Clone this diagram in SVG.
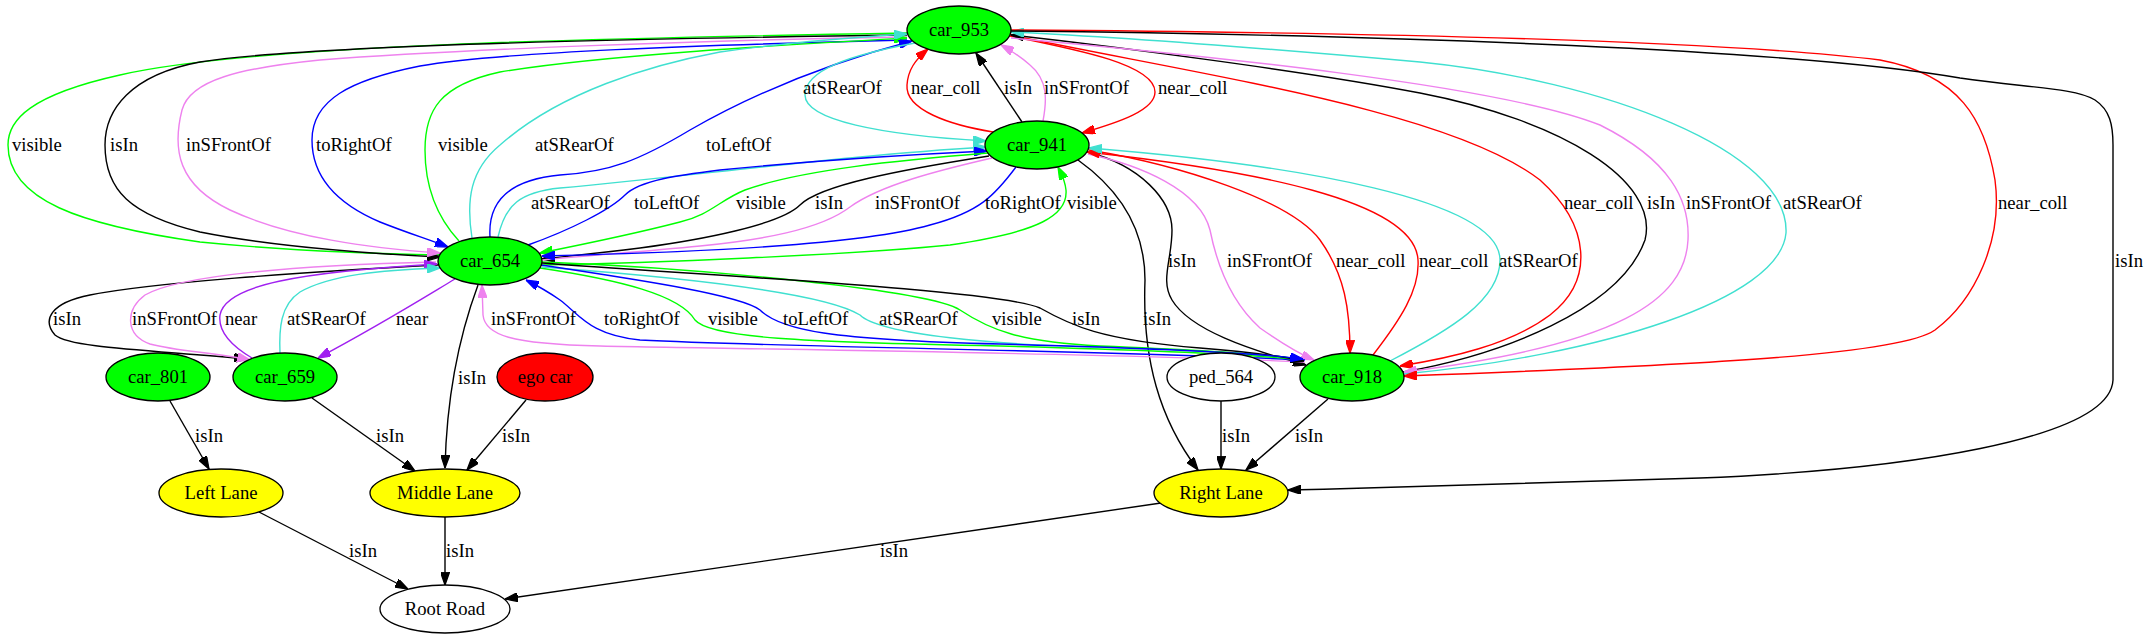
<svg xmlns="http://www.w3.org/2000/svg" width="2147" height="639" viewBox="0 0 2147 639">
<style>
text{font-family:"Liberation Serif","Times New Roman",serif;font-size:18.67px;fill:#000}
.n text{text-anchor:middle}
.n ellipse{stroke:#000;stroke-width:1.33}
.g{fill:#00ff00}.y{fill:#ffff00}.r{fill:#ff0000}.w{fill:#fff}
.e path{fill:none;stroke-width:1.4}
.k{stroke:#000}.rd{stroke:#ff0000}.bl{stroke:#0000ff}.gr{stroke:#00ff00}.pk{stroke:#ee82ee}.cy{stroke:#40e0d0}.pu{stroke:#a020f0}
</style>
<defs>
<marker id="mk" viewBox="0 0 10 7" refX="10" refY="3.5" markerWidth="13" markerHeight="9" markerUnits="userSpaceOnUse" orient="auto"><path d="M0,0L10,3.5L0,7z" fill="#000" stroke="#000"/></marker>
<marker id="mr" viewBox="0 0 10 7" refX="10" refY="3.5" markerWidth="13" markerHeight="9" markerUnits="userSpaceOnUse" orient="auto"><path d="M0,0L10,3.5L0,7z" fill="#ff0000" stroke="#ff0000"/></marker>
<marker id="mb" viewBox="0 0 10 7" refX="10" refY="3.5" markerWidth="13" markerHeight="9" markerUnits="userSpaceOnUse" orient="auto"><path d="M0,0L10,3.5L0,7z" fill="#0000ff" stroke="#0000ff"/></marker>
<marker id="mg" viewBox="0 0 10 7" refX="10" refY="3.5" markerWidth="13" markerHeight="9" markerUnits="userSpaceOnUse" orient="auto"><path d="M0,0L10,3.5L0,7z" fill="#00ff00" stroke="#00ff00"/></marker>
<marker id="mp" viewBox="0 0 10 7" refX="10" refY="3.5" markerWidth="13" markerHeight="9" markerUnits="userSpaceOnUse" orient="auto"><path d="M0,0L10,3.5L0,7z" fill="#ee82ee" stroke="#ee82ee"/></marker>
<marker id="mc" viewBox="0 0 10 7" refX="10" refY="3.5" markerWidth="13" markerHeight="9" markerUnits="userSpaceOnUse" orient="auto"><path d="M0,0L10,3.5L0,7z" fill="#40e0d0" stroke="#40e0d0"/></marker>
<marker id="mu" viewBox="0 0 10 7" refX="10" refY="3.5" markerWidth="13" markerHeight="9" markerUnits="userSpaceOnUse" orient="auto"><path d="M0,0L10,3.5L0,7z" fill="#a020f0" stroke="#a020f0"/></marker>
</defs>
<rect width="2147" height="639" fill="#fff"/>
<g id="connectors" class="e">
<!-- group A: car_953 / car_654 -->
<path class="gr" marker-end="url(#mg)" d="M907,33 C600,38 250,45 120,75 C30,95 8,120 8,145 C8,200 80,225 200,242 C300,252 380,254 440,255"/>
<path class="k" marker-end="url(#mk)" d="M907,35 C600,39 300,46 200,62 C130,75 105,110 105,145 C105,190 130,215 200,232 C280,248 380,254 440,257"/>
<path class="pk" marker-end="url(#mp)" d="M907,37 C700,40 450,50 320,60 C240,68 190,80 182,110 C172,150 178,185 230,210 C290,238 370,248 440,253"/>
<path class="bl" marker-end="url(#mb)" d="M907,40 C700,45 500,52 420,66 C350,80 312,100 312,140 C312,180 340,205 380,222 C405,232 430,240 448,247"/>
<path class="gr" marker-end="url(#mg)" d="M459,241 C435,215 425,185 425,150 C425,110 440,85 500,72 C600,55 800,44 907,38"/>
<path class="cy" marker-end="url(#mc)" d="M472,238 C466,200 470,170 500,145 C560,92 650,65 720,52 C790,42 860,37 907,34"/>
<path class="bl" marker-end="url(#mb)" d="M490,237 C488,205 505,180 560,175 C610,172 640,160 690,130 C760,90 840,60 912,41"/>
<!-- group B -->
<path class="cy" marker-end="url(#mc)" d="M915,43 C850,55 805,70 805,95 C805,120 880,135 986,141"/>
<path class="rd" marker-end="url(#mr)" d="M993,132 C950,125 905,110 907,85 C908,70 915,60 928,49"/>
<path class="k" marker-end="url(#mk)" d="M1022,122 L976,53"/>
<path class="pk" marker-end="url(#mp)" d="M1043,121 C1047,100 1048,80 1030,65 C1022,58 1012,51 1001,45"/>
<path class="rd" marker-end="url(#mr)" d="M1010,36 C1080,50 1155,65 1155,92 C1155,110 1120,122 1082,133"/>
<!-- group C -->
<path class="cy" marker-end="url(#mc)" d="M498,237 C505,205 520,192 560,188 C700,175 850,155 986,147"/>
<path class="bl" marker-end="url(#mb)" d="M528,245 C570,230 610,210 625,195 C640,180 680,175 720,170 C800,162 900,155 987,151"/>
<path class="gr" marker-end="url(#mg)" d="M988,153 C900,160 800,170 745,190 C720,200 710,215 680,222 C630,235 580,245 540,253"/>
<path class="k" marker-end="url(#mk)" d="M989,156 C900,170 820,185 800,205 C780,225 700,240 640,248 C600,253 570,256 542,259"/>
<path class="pk" d="M992,158 C940,170 880,185 850,207 C820,230 760,240 700,246 C640,252 580,256 542,260"/>
<path class="bl" marker-end="url(#mb)" d="M1016,167 C995,195 980,212 930,225 C860,245 700,252 542,256"/>
<path class="gr" marker-end="url(#mg)" d="M540,265 C650,263 850,255 950,245 C1040,232 1068,215 1066,190 C1065,180 1062,175 1058,167"/>
<!-- group D -->
<path class="k" marker-end="url(#mk)" d="M1087,152 C1140,165 1172,200 1172,230 C1172,260 1160,280 1172,300 C1190,330 1250,350 1306,365"/>
<path class="pk" marker-end="url(#mp)" d="M1088,154 C1140,165 1200,190 1210,230 C1220,280 1240,310 1260,328 C1280,342 1295,352 1314,360"/>
<path class="rd" marker-end="url(#mr)" d="M1089,150 C1180,165 1290,200 1320,240 C1345,275 1350,310 1350,353"/>
<path class="rd" marker-end="url(#mr)" d="M1373,355 C1400,320 1420,290 1418,260 C1415,200 1250,170 1087,152"/>
<path class="cy" marker-end="url(#mc)" d="M1390,361 C1450,330 1500,300 1500,260 C1500,200 1300,165 1089,148"/>
<path class="k" marker-end="url(#mk)" d="M1078,160 C1120,190 1145,230 1145,280 C1142,360 1160,420 1198,470"/>
<!-- group E -->
<path class="rd" marker-end="url(#mr)" d="M1010,35 C1200,75 1450,110 1540,180 C1590,225 1595,280 1550,315 C1510,345 1450,358 1400,366"/>
<path class="k" marker-end="url(#mk)" d="M1403,372 C1500,355 1620,310 1645,240 C1660,180 1560,120 1420,93 C1300,70 1100,45 1011,35"/>
<path class="pk" marker-end="url(#mp)" d="M1011,38 C1200,55 1500,85 1600,125 C1670,160 1690,200 1688,240 C1685,300 1620,345 1404,372"/>
<path class="cy" marker-end="url(#mc)" d="M1404,374 C1600,355 1780,300 1786,233 C1790,150 1600,80 1420,62 C1250,47 1100,36 1011,32"/>
<path class="rd" marker-end="url(#mr)" d="M1011,30 C1300,32 1700,38 1880,60 C1960,75 1985,120 1995,180 C2003,240 1975,300 1935,330 C1900,355 1700,365 1404,376"/>
<path class="k" marker-end="url(#mk)" d="M1011,31 C1400,35 1800,50 1960,78 C2030,88 2075,88 2095,100 C2110,110 2113,125 2113,145 L2113,380 C2110,440 1900,470 1700,478 C1500,485 1400,488 1288,490"/>
<!-- group F -->
<path class="pk" marker-end="url(#mp)" d="M1305,362 C1100,353 800,350 600,346 C510,344 485,335 483,315 L482,285"/>
<path class="bl" marker-end="url(#mb)" d="M1305,360 C1100,350 800,348 640,340 C590,335 580,315 560,300 C550,293 540,287 526,280"/>
<path class="gr" marker-end="url(#mg)" d="M540,268 C620,280 680,295 695,320 C710,338 800,342 1000,346 C1150,350 1250,354 1303,360"/>
<path class="cy" marker-end="url(#mc)" d="M542,267 C650,275 820,290 860,315 C880,335 1000,345 1100,347 C1200,350 1270,354 1303,360"/>
<path class="gr" marker-end="url(#mg)" d="M542,262 C700,268 930,290 960,310 C990,330 1020,342 1100,346 C1200,350 1270,354 1303,360"/>
<path class="k" marker-end="url(#mk)" d="M542,263 C700,275 1000,290 1040,308 C1070,325 1100,340 1200,348 C1250,352 1280,356 1304,361"/>
<path class="bl" marker-end="url(#mb)" d="M541,265 C640,280 740,295 760,310 C780,330 830,340 1000,344 C1150,348 1250,352 1303,359"/>
<!-- group G -->
<path class="k" marker-end="url(#mk)" d="M438,265 C300,272 150,283 90,295 C50,303 42,320 55,335 C70,348 150,350 247,359"/>
<path class="pk" marker-end="url(#mp)" d="M436,262 C300,265 180,275 145,295 C125,310 125,335 150,344 C180,352 215,352 250,360"/>
<path class="pu" marker-end="url(#mu)" d="M252,358 C230,345 218,330 220,315 C225,285 300,272 437,264"/>
<path class="cy" marker-end="url(#mc)" d="M280,353 C279,330 280,305 300,292 C330,275 380,270 440,268"/>
<path class="pu" marker-end="url(#mu)" d="M455,279 C420,300 380,325 318,358"/>
<!-- group H -->
<path class="k" marker-end="url(#mk)" d="M478,285 C465,320 447,380 445,468"/>
<path class="k" marker-end="url(#mk)" d="M170,401 L209,469"/>
<path class="k" marker-end="url(#mk)" d="M312,398 L415,471"/>
<path class="k" marker-end="url(#mk)" d="M526,400 L467,470"/>
<path class="k" marker-end="url(#mk)" d="M259,512 L408,589"/>
<path class="k" marker-end="url(#mk)" d="M445,517 L445,585"/>
<path class="k" marker-end="url(#mk)" d="M1161,503 L505,599"/>
<path class="k" marker-end="url(#mk)" d="M1221,401 L1221,469"/>
<path class="k" marker-end="url(#mk)" d="M1328,399 L1246,470"/>
</g>
<g id="edge-labels">
<text x="12" y="151">visible</text>
<text x="110" y="151">isIn</text>
<text x="186" y="151">inSFrontOf</text>
<text x="316" y="151">toRightOf</text>
<text x="438" y="151">visible</text>
<text x="535" y="151">atSRearOf</text>
<text x="706" y="151">toLeftOf</text>
<text x="803" y="94">atSRearOf</text>
<text x="911" y="94">near_coll</text>
<text x="1004" y="94">isIn</text>
<text x="1044" y="94">inSFrontOf</text>
<text x="1158" y="94">near_coll</text>
<text x="531" y="209">atSRearOf</text>
<text x="634" y="209">toLeftOf</text>
<text x="736" y="209">visible</text>
<text x="815" y="209">isIn</text>
<text x="875" y="209">inSFrontOf</text>
<text x="985" y="209">toRightOf</text>
<text x="1067" y="209">visible</text>
<text x="1564" y="209">near_coll</text>
<text x="1647" y="209">isIn</text>
<text x="1686" y="209">inSFrontOf</text>
<text x="1783" y="209">atSRearOf</text>
<text x="1998" y="209">near_coll</text>
<text x="1168" y="267">isIn</text>
<text x="1227" y="267">inSFrontOf</text>
<text x="1336" y="267">near_coll</text>
<text x="1419" y="267">near_coll</text>
<text x="1499" y="267">atSRearOf</text>
<text x="2115" y="267">isIn</text>
<text x="53" y="325">isIn</text>
<text x="132" y="325">inSFrontOf</text>
<text x="225" y="325">near</text>
<text x="287" y="325">atSRearOf</text>
<text x="396" y="325">near</text>
<text x="491" y="325">inSFrontOf</text>
<text x="604" y="325">toRightOf</text>
<text x="708" y="325">visible</text>
<text x="783" y="325">toLeftOf</text>
<text x="879" y="325">atSRearOf</text>
<text x="992" y="325">visible</text>
<text x="1072" y="325">isIn</text>
<text x="1143" y="325">isIn</text>
<text x="458" y="384">isIn</text>
<text x="195" y="442">isIn</text>
<text x="376" y="442">isIn</text>
<text x="502" y="442">isIn</text>
<text x="1222" y="442">isIn</text>
<text x="1295" y="442">isIn</text>
<text x="349" y="557">isIn</text>
<text x="446" y="557">isIn</text>
<text x="880" y="557">isIn</text>
</g>
<g id="car_953" class="n"><ellipse class="g" cx="959" cy="30" rx="52" ry="24"/><text x="959" y="36">car_953</text></g>
<g id="car_941" class="n"><ellipse class="g" cx="1037" cy="145" rx="52" ry="24"/><text x="1037" y="151">car_941</text></g>
<g id="car_654" class="n"><ellipse class="g" cx="490" cy="261" rx="52" ry="24"/><text x="490" y="267">car_654</text></g>
<g id="car_918" class="n"><ellipse class="g" cx="1352" cy="377" rx="52" ry="24"/><text x="1352" y="383">car_918</text></g>
<g id="ped_564" class="n"><ellipse class="w" cx="1221" cy="377" rx="54" ry="24"/><text x="1221" y="383">ped_564</text></g>
<g id="car_801" class="n"><ellipse class="g" cx="158" cy="377" rx="52" ry="24"/><text x="158" y="383">car_801</text></g>
<g id="car_659" class="n"><ellipse class="g" cx="285" cy="377" rx="52" ry="24"/><text x="285" y="383">car_659</text></g>
<g id="ego_car" class="n"><ellipse class="r" cx="545" cy="377" rx="48" ry="24"/><text x="545" y="383">ego car</text></g>
<g id="left_lane" class="n"><ellipse class="y" cx="221" cy="493" rx="62" ry="24"/><text x="221" y="499">Left Lane</text></g>
<g id="middle_lane" class="n"><ellipse class="y" cx="445" cy="493" rx="75" ry="24"/><text x="445" y="499">Middle Lane</text></g>
<g id="right_lane" class="n"><ellipse class="y" cx="1221" cy="493" rx="67" ry="24"/><text x="1221" y="499">Right Lane</text></g>
<g id="root_road" class="n"><ellipse class="w" cx="445" cy="609" rx="65" ry="24"/><text x="445" y="615">Root Road</text></g>
</svg>
